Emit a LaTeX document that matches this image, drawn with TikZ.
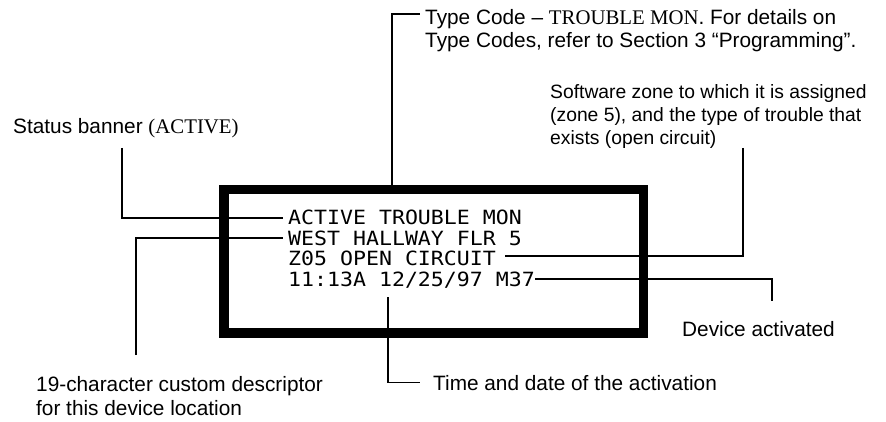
\documentclass[tikz,border=0pt]{standalone}
\usepackage{fontspec}
\setmainfont{Liberation Sans}
\newfontfamily\serifcaps{Liberation Serif}
\newfontfamily\lcdfont[FakeStretch=1.1]{DejaVu Sans Mono}
\begin{document}
\begin{tikzpicture}[x=1pt,y=-1pt,
  conn/.style={line width=1.6pt},
  lcd/.style={font=\lcdfont\fontsize{19.6}{20}\selectfont, inner sep=0pt, text height=14.3pt, text depth=0pt, anchor=base west},
  lbl/.style={font=\fontsize{20.8}{23}\selectfont, inner sep=0pt, text height=14.9pt, text depth=0pt, anchor=base west},
  lbls/.style={lbl, font=\fontsize{19.3}{23}\selectfont}]
\path[use as bounding box] (0,0) rectangle (886,422);
% display frame
\node[draw, line width=9.5pt, minimum width=419.5pt, minimum height=143pt, inner sep=0pt, anchor=north west] (display) at (219,185) {};
% display lines
\node[lcd] (l1) at (288,225) {ACTIVE TROUBLE MON};
\node[lcd] (l2) at (288,245) {WEST HALLWAY FLR 5};
\node[lcd] (l3) at (288,265) {Z05 OPEN CIRCUIT};
\node[lcd] (l4) at (288,286) {11:13A 12/25/97 M37};
% labels
\node[lbl] (status) at (13,134) {Status banner {\serifcaps (ACTIVE)}};
\node[lbl] (tc1) at (425,25) {Type Code – {\serifcaps TROUBLE MON}. For details on};
\node[lbl] (tc2) at (425,48) {Type Codes, refer to Section 3 “Programming”.};
\node[lbls] (sw1) at (550,99) {Software zone to which it is assigned};
\node[lbls] (sw2) at (550,122) {(zone 5), and the type of trouble that};
\node[lbls] (sw3) at (550,145) {exists (open circuit)};
\node[lbl] (dev) at (682,336) {Device activated};
\node[lbl] (tm) at (433,390) {Time and date of the activation};
\node[lbl] (desc1) at (36,391) {19-character custom descriptor};
\node[lbl] (desc2) at (36,415) {for this device location};
% connectors
\coordinate (stend) at (122,148);
\draw[conn] (stend) |- ([xshift=-5pt]l1.west);
\coordinate (dsend) at (136,355);
\draw[conn] (dsend) |- ([xshift=-5pt]l2.west);
\coordinate (tcend) at (392,190);
\draw[conn] (tcend) |- ([xshift=-5pt,yshift=3.5pt]tc1.west);
\coordinate (swend) at (743,148);
\draw[conn] (swend) |- ([xshift=9pt,yshift=2pt]l3.east);
\coordinate (dvend) at (772,301);
\draw[conn] (l4.east) -| (dvend);
\coordinate (tmend) at (388,297);
\draw[conn] (tmend) |- ([xshift=-13pt]tm.west);
\end{tikzpicture}
\end{document}
